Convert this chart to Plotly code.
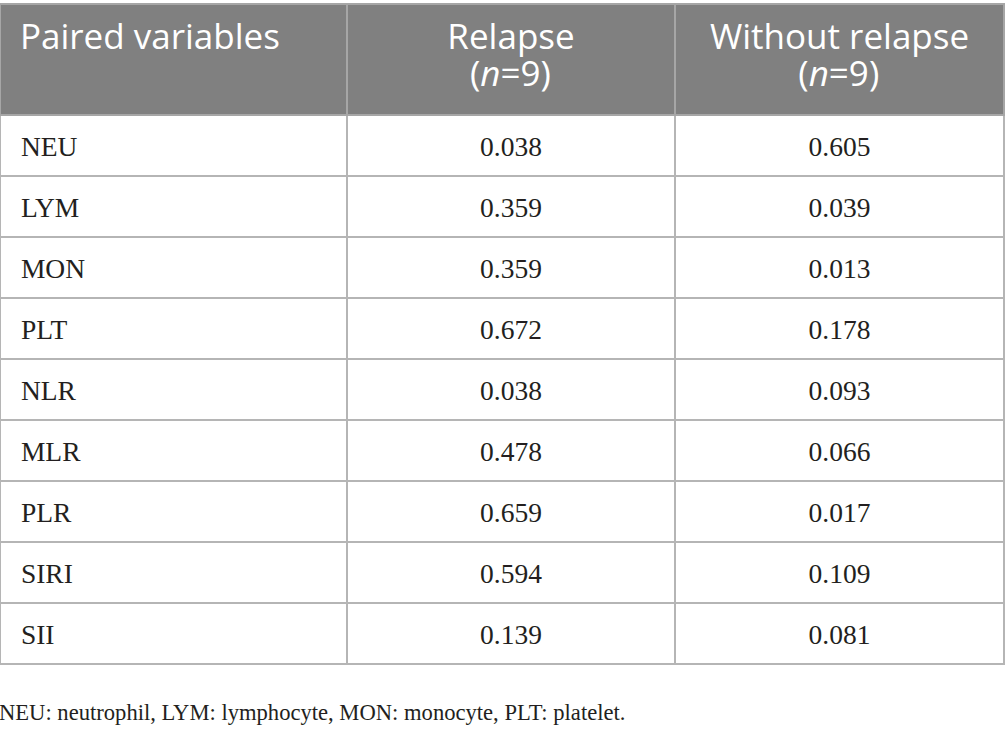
import plotly.graph_objects as go

variables = ["NEU", "LYM", "MON", "PLT", "NLR", "MLR", "PLR", "SIRI", "SII"]
relapse = ["0.038", "0.359", "0.359", "0.672", "0.038", "0.478", "0.659", "0.594", "0.139"]
without_relapse = ["0.605", "0.039", "0.013", "0.178", "0.093", "0.066", "0.017", "0.109", "0.081"]
header_line1 = ["Paired variables", "Relapse", "Without relapse"]
header_line2 = ["", "(<i>n</i>=9)", "(<i>n</i>=9)"]
footnote = "NEU: neutrophil, LYM: lymphocyte, MON: monocyte, PLT: platelet."

W, H = 1005, 744
NB = "\u00a0"


def sp(text, size):
    return f'<span style="font-size:{size}px">{text}</span>'


HF = 35     # header glyph size
BF = 27.5   # body glyph size

# a line break in every cell keeps the table from auto-wrapping the markup
hdr = [
    sp(NB, HF) + sp(NB, 11) + sp(header_line1[0], HF) + "<br>",
    sp(header_line1[1], HF) + "<br>"
    + sp(NB * 2, HF) + sp(NB, 17) + sp(header_line2[1], HF),
    sp(header_line1[2], HF) + "<br>"
    + sp(NB * 9, HF) + sp(NB, 25.4) + sp(header_line2[2], HF),
]


def body_left(v):
    return sp(NB, 37.6) + sp(NB, 14) + sp(v, BF) + "<br>"


def body_center(v):
    return sp(NB, 37.6) + sp(v, BF) + sp(NB, 37.6) + "<br>"


fig = go.Figure(go.Table(
    domain=dict(x=[0, 0.9995], y=[0, 1]),
    columnwidth=[347, 328, 329],
    header=dict(
        values=hdr,
        fill_color="#808080",
        line=dict(color="#a6a6a6", width=1.5),
        align=["left", "center", "center"],
        font=dict(family="Open Sans", size=28.5, color="white"),
        height=111,
    ),
    cells=dict(
        values=[[body_left(v) for v in variables],
                [body_center(v) for v in relapse],
                [body_center(v) for v in without_relapse]],
        fill_color="white",
        line=dict(color="#b5b5b5", width=1.5),
        align=["left", "center", "center"],
        font=dict(family="Liberation Serif", size=BF, color="#231f20"),
        height=61,
    ),
))

fig.add_annotation(
    text=footnote, xref="paper", yref="paper", x=-0.003, y=1 - 712 / H,
    xanchor="left", yanchor="middle", showarrow=False,
    font=dict(family="Liberation Serif", size=22.6, color="#231f20"),
)

fig.update_layout(
    width=W, height=H,
    margin=dict(l=0, r=0, t=4, b=0),
    paper_bgcolor="white",
)

fig.write_html("out.html", config={"displayModeBar": False},
               post_script="document.body.style.margin='0';")
